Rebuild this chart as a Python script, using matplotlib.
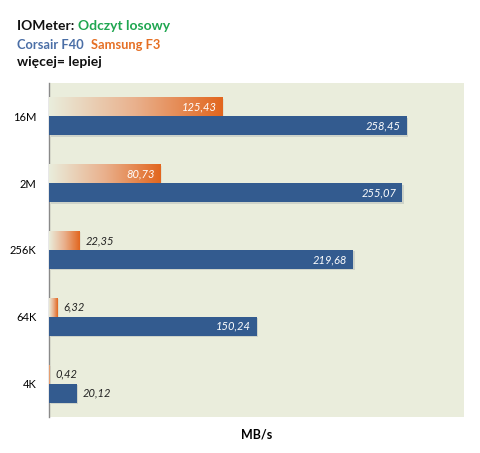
import matplotlib
matplotlib.use("Agg")
import matplotlib.pyplot as plt
import numpy as np
from matplotlib.colors import LinearSegmentedColormap
from matplotlib.patches import Rectangle

categories = ["16M", "2M", "256K", "64K", "4K"]
corsair = [258.45, 255.07, 219.68, 150.24, 20.12]
samsung = [125.43, 80.73, 22.35, 6.32, 0.42]
corsair_labels = ["258,45", "255,07", "219,68", "150,24", "20,12"]
samsung_labels = ["125,43", "80,73", "22,35", "6,32", "0,42"]

BG = "#EAEDDC"
BLUE = "#335B8F"
ORANGE = "#E2661E"

plt.rcParams['font.family'] = ['Lato', 'DejaVu Sans']

fig = plt.figure(figsize=(4.8, 4.53), dpi=100)
W, H = 480, 453
ax = fig.add_axes([49 / W, 1 - 417 / H, (464 - 49) / W, (417 - 83) / H])
ax.set_facecolor(BG)
ax.set_xlim(0, 300)
n = len(categories)
ax.set_ylim(n - 0.5, -0.5)
ypos = np.arange(n)
h = 0.284

cmap = LinearSegmentedColormap.from_list("og", [BG, "#E9B08C", ORANGE])
grad = np.linspace(0, 1, 256).reshape(1, -1)

for i in range(n):
    yb = ypos[i] + h / 2
    yo = ypos[i] - h / 2
    # shadow
    ax.barh(yb + 0.02, corsair[i], height=h, left=1.2, color="#9aa3a8", alpha=0.35, zorder=1)
    ax.barh(yb, corsair[i], height=h, color=BLUE, zorder=3)
    # orange gradient bar
    ax.imshow(grad, cmap=cmap, aspect="auto", zorder=3,
              extent=(0, samsung[i], yo + h / 2, yo - h / 2), interpolation="bilinear")
    ax.add_patch(Rectangle((0.8, yo - h / 2 + 0.02), samsung[i], h, color="#c9c0b0",
                           alpha=0.3, zorder=2, lw=0))
    # labels
    if corsair[i] > 50:
        ax.text(corsair[i] - 4, yb, corsair_labels[i], ha="right", va="center",
                color="white", style="italic", fontsize=8, zorder=5)
    else:
        ax.text(corsair[i] + 4, yb, corsair_labels[i], ha="left", va="center",
                color="#222222", style="italic", fontsize=8, zorder=5)
    if samsung[i] > 50:
        ax.text(samsung[i] - 4, yo, samsung_labels[i], ha="right", va="center",
                color="white", style="italic", fontsize=8, zorder=5)
    else:
        ax.text(samsung[i] + 4, yo, samsung_labels[i], ha="left", va="center",
                color="#222222", style="italic", fontsize=8, zorder=5)

ax.set_xlim(0, 300)
ax.set_ylim(n - 0.5, -0.5)
ax.set_yticks(ypos)
ax.set_yticklabels(categories, fontsize=8)
ax.tick_params(axis="y", length=0, pad=9)
ax.set_xticks([])
for s in ["top", "right", "bottom"]:
    ax.spines[s].set_visible(False)
ax.spines["left"].set_color("#8a8a8a")
ax.spines["left"].set_linewidth(1)
ax.set_xlabel("MB/s", fontsize=9, fontweight="bold", labelpad=8)

# titles
t1 = fig.text(17 / W, 1 - 26 / H, "IOMeter: ", fontsize=10, fontweight="bold",
              color="#111111", va="center", ha="left")
fig.canvas.draw()
bb = t1.get_window_extent()
fig.text(bb.x1 / W, 1 - 26 / H, "Odczyt losowy", fontsize=10, fontweight="bold",
         color="#1FA650", va="center", ha="left")
t2 = fig.text(17 / W, 1 - 45 / H, "Corsair F40", fontsize=9.3, fontweight="bold",
              color="#4A6EA6", va="center", ha="left")
fig.canvas.draw()
bb2 = t2.get_window_extent()
fig.text((bb2.x1 + 7) / W, 1 - 45 / H, "Samsung F3", fontsize=9.3, fontweight="bold",
         color="#E56F24", va="center", ha="left")
fig.text(17 / W, 1 - 62 / H, "więcej= lepiej", fontsize=10, fontweight="bold",
         color="#111111", va="center", ha="left")

fig.savefig("out.png", dpi=100, facecolor="white")
